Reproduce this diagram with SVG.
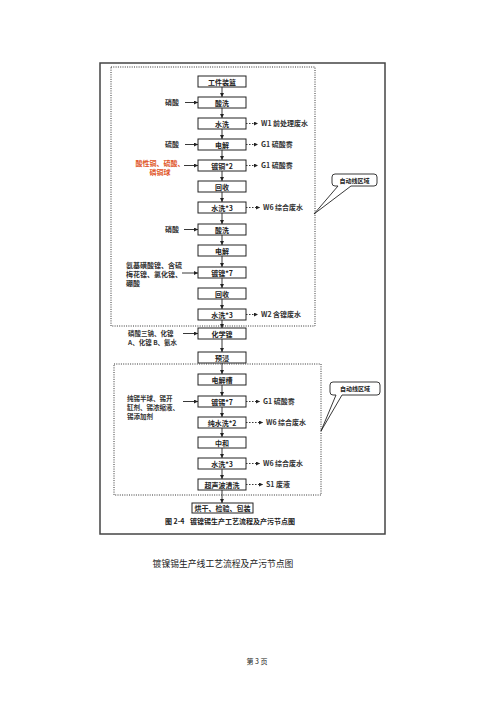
<svg xmlns="http://www.w3.org/2000/svg" width="500" height="707" viewBox="0 0 500 707">
<defs>
<marker id="ah" markerWidth="4" markerHeight="4" refX="4" refY="2" orient="auto" markerUnits="userSpaceOnUse"><path d="M0,0 L4,2 L0,4 Z" fill="#222"/></marker>
<style>
text{font-family:"Noto Sans CJK SC","Noto Sans",sans-serif;fill:#222}
.bx rect{fill:#fff;stroke:#222;stroke-width:1}
.bx text{font-size:7px;font-weight:700;text-anchor:middle}
.lbl{font-size:7px;font-weight:700;fill:#333}
.sm{font-size:6.5px}
.red{fill:#e0552a;font-weight:700;font-size:7px}
.v{stroke:#222;stroke-width:0.9;fill:none;marker-end:url(#ah)}
.d{stroke:#222;stroke-width:0.9;fill:none;stroke-dasharray:1.5 1.5;marker-end:url(#ah)}
.s{stroke:#222;stroke-width:0.9;fill:none;marker-end:url(#ah)}
.zone{fill:none;stroke:#333;stroke-width:1;stroke-dasharray:1 1.3}
.bub{fill:#fff;stroke:#222;stroke-width:0.9}
</style>
</defs>
<rect width="500" height="707" fill="#fff"/>
<rect x="100" y="63" width="285" height="471" fill="none" stroke="#444" stroke-width="1.5"/>
<g id="zones">
<rect class="zone" x="111" y="67" width="204" height="259"/>
<rect class="zone" x="114" y="364" width="207" height="131"/>
</g>
<g id="callouts">
<g id="callout1"><path class="bub" d="M335,174 H374 Q377,174 377,177 V183 Q377,186 374,186 H351 L314,214 L338,186 H335 Q332,186 332,183 V177 Q332,174 335,174 Z"/><text x="354.5" y="182.5" font-size="6" text-anchor="middle" font-weight="700">自动线区域</text></g>
<g id="callout2"><path class="bub" d="M333,382 H377 Q380,382 380,385 V392 Q380,395 377,395 H342 L321,431 L336,395 H333 Q330,395 330,392 V385 Q330,382 333,382 Z"/><text x="355" y="391" font-size="6" text-anchor="middle" font-weight="700">自动线区域</text></g>
</g>
<g id="connectors">
<path class="v" d="M222,87 V97"/>
<path class="v" d="M222,108 V118"/>
<path class="v" d="M222,129 V139"/>
<path class="v" d="M222,150 V160"/>
<path class="v" d="M222,171 V181"/>
<path class="v" d="M222,192 V202"/>
<path class="v" d="M222,213 V224"/>
<path class="v" d="M222,235 V245"/>
<path class="v" d="M222,256 V267"/>
<path class="v" d="M222,278 V288"/>
<path class="v" d="M222,299 V309"/>
<path class="v" d="M222,320 V328"/>
<path class="v" d="M222,339 V352"/>
<path class="v" d="M222,363 V374"/>
<path class="v" d="M222,385 V396"/>
<path class="v" d="M222,407 V417"/>
<path class="v" d="M222,428 V437"/>
<path class="v" d="M222,448 V458"/>
<path class="v" d="M222,469 V479"/>
<path class="v" d="M222,490 V503"/>
<path class="s" d="M185,102.5 H198"/>
<path class="s" d="M185,144.5 H198"/>
<path class="s" d="M184,165.5 H198"/>
<path class="s" d="M184,229.5 H198"/>
<path class="s" d="M182,273 H198"/>
<path class="s" d="M183,333.5 H198"/>
<path class="s" d="M183,401.5 H198"/>
<path class="d" d="M246,123.5 H258"/>
<path class="d" d="M246,144.5 H258"/>
<path class="d" d="M246,165.5 H258"/>
<path class="d" d="M246,207.5 H260"/>
<path class="d" d="M246,314.5 H258"/>
<path class="d" d="M246,401.5 H260"/>
<path class="d" d="M246,422.5 H263"/>
<path class="d" d="M246,463.5 H260"/>
<path class="d" d="M246,484.5 H263"/>
</g>
<g id="nodes">
<g class="bx" id="n1"><rect x="198" y="76" width="48" height="11"/><text x="222" y="84.5">工件装篮</text></g>
<g class="bx" id="n2"><rect x="198" y="97" width="48" height="11"/><text x="222" y="105.5">酸洗</text></g>
<g class="bx" id="n3"><rect x="198" y="118" width="48" height="11"/><text x="222" y="126.5">水洗</text></g>
<g class="bx" id="n4"><rect x="198" y="139" width="48" height="11"/><text x="222" y="147.5">电解</text></g>
<g class="bx" id="n5"><rect x="198" y="160" width="48" height="11"/><text x="222" y="168.5">镀铜*2</text></g>
<g class="bx" id="n6"><rect x="198" y="181" width="48" height="11"/><text x="222" y="189.5">回收</text></g>
<g class="bx" id="n7"><rect x="198" y="202" width="48" height="11"/><text x="222" y="210.5">水洗*3</text></g>
<g class="bx" id="n8"><rect x="198" y="224" width="48" height="11"/><text x="222" y="232.5">酸洗</text></g>
<g class="bx" id="n9"><rect x="198" y="245" width="48" height="11"/><text x="222" y="253.5">电解</text></g>
<g class="bx" id="n10"><rect x="198" y="267" width="48" height="11"/><text x="222" y="275.5">镀镍*7</text></g>
<g class="bx" id="n11"><rect x="198" y="288" width="48" height="11"/><text x="222" y="296.5">回收</text></g>
<g class="bx" id="n12"><rect x="198" y="309" width="48" height="11"/><text x="222" y="317.5">水洗*3</text></g>
<g class="bx" id="n13"><rect x="198" y="328" width="48" height="11"/><text x="222" y="336.5">化学镍</text></g>
<g class="bx" id="n14"><rect x="198" y="352" width="48" height="11"/><text x="222" y="360.5">预浸</text></g>
<g class="bx" id="n15"><rect x="198" y="374" width="48" height="11"/><text x="222" y="382.5">电解槽</text></g>
<g class="bx" id="n16"><rect x="198" y="396" width="48" height="11"/><text x="222" y="404.5">镀锡*7</text></g>
<g class="bx" id="n17"><rect x="198" y="417" width="48" height="11"/><text x="222" y="425.5">纯水洗*2</text></g>
<g class="bx" id="n18"><rect x="198" y="437" width="48" height="11"/><text x="222" y="445.5">中和</text></g>
<g class="bx" id="n19"><rect x="198" y="458" width="48" height="11"/><text x="222" y="466.5">水洗*3</text></g>
<g class="bx" id="n20"><rect x="198" y="479" width="48" height="11"/><text x="222" y="487.5">超声波清洗</text></g>
<g class="bx" id="n21"><rect x="192" y="503" width="61" height="10"/><text x="222.5" y="511">烘干、检验、包装</text></g>
</g>
<g id="inputs">
<text class="lbl" x="179" y="105" text-anchor="end">硝酸</text>
<text class="lbl" x="179" y="147" text-anchor="end">硫酸</text>
<text class="red" x="160" y="166" text-anchor="middle">酸性铜、硫酸、</text>
<text class="red" x="160" y="175" text-anchor="middle">磷铜球</text>
<text class="lbl" x="179" y="232" text-anchor="end">硝酸</text>
<text class="lbl" x="126" y="267.5">氨基磺酸镍、含硫</text>
<text class="lbl" x="126" y="276.5">梅花镍、氯化镍、</text>
<text class="lbl" x="126" y="285.5">硼酸</text>
<text class="lbl sm" x="128" y="336">磷酸三钠、化镍</text>
<text class="lbl sm" x="128" y="345">A、化镍 B、氨水</text>
<text class="lbl sm" x="127" y="401">纯锡半球、锡开</text>
<text class="lbl sm" x="127" y="410">缸剂、锡浓缩液、</text>
<text class="lbl sm" x="127" y="419">锡添加剂</text>
</g>
<g id="outputs">
<text class="lbl" x="261" y="126">W1 前处理废水</text>
<text class="lbl" x="261" y="147">G1 硫酸雾</text>
<text class="lbl" x="261" y="168">G1 硫酸雾</text>
<text class="lbl" x="263" y="210">W6 综合废水</text>
<text class="lbl" x="261" y="317">W2 含镍废水</text>
<text class="lbl" x="263" y="404">G1 硫酸雾</text>
<text class="lbl" x="266" y="425">W6 综合废水</text>
<text class="lbl" x="263" y="466">W6 综合废水</text>
<text class="lbl" x="266" y="487">S1  废液</text>
</g>
<g id="captions">
<text x="165" y="524" font-size="7" font-weight="700">图 2-4</text>
<text x="190" y="524" font-size="7" font-weight="700">镀镍锡生产工艺流程及产污节点图</text>
<text x="223" y="567" font-size="8.8" text-anchor="middle" fill="#444">镀镍锡生产线工艺流程及产污节点图</text>
<text x="257" y="664" font-size="7" text-anchor="middle" fill="#333">第 3 页</text>
</g>
</svg>
